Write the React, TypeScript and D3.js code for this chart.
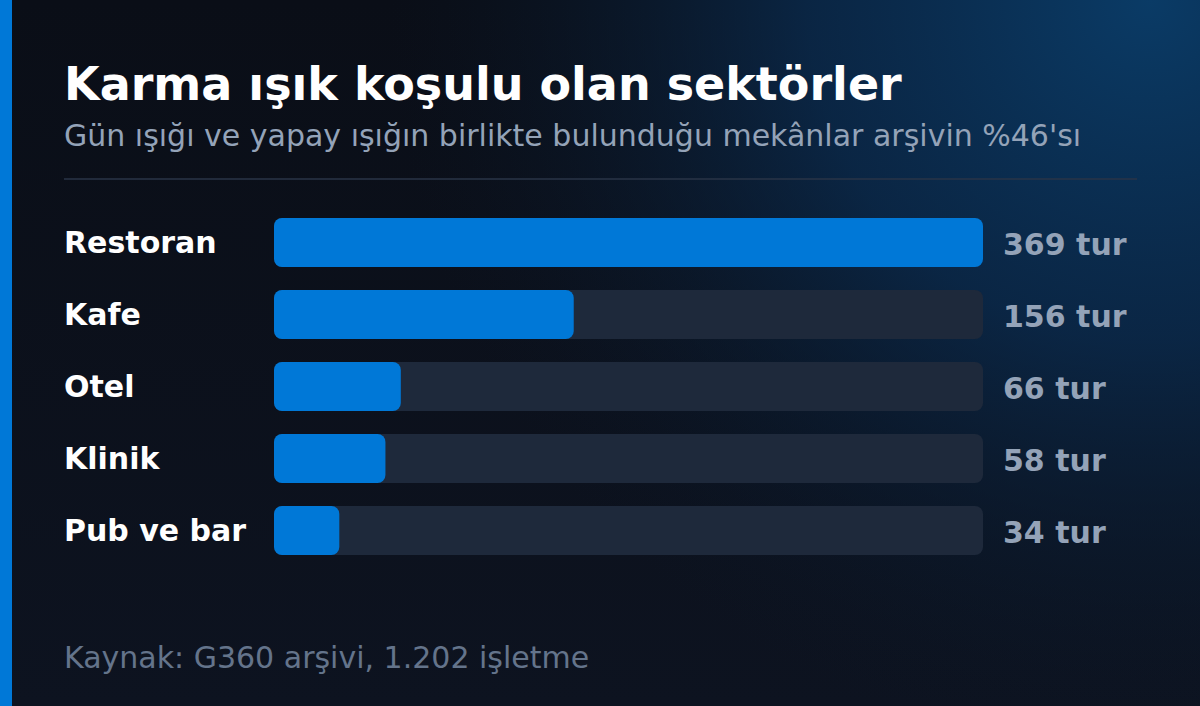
import React from 'react';
import * as d3 from 'd3';

const categories = ['Restoran', 'Kafe', 'Otel', 'Klinik', 'Pub ve bar'];
const values = [369, 156, 66, 58, 34];
const valueSuffix = ' tur';

const title = 'Karma ışık koşulu olan sektörler';
const subtitle = "Gün ışığı ve yapay ışığın birlikte bulunduğu mekânlar arşivin %46'sı";
const source = 'Kaynak: G360 arşivi, 1.202 işletme';

const W = 1200;
const H = 706;
const FONT = "'DejaVu Sans', sans-serif";

const App: React.FC = () => {
    const trackX = 274;
    const trackW = 709;

    const x = d3.scaleLinear()
        .domain([0, d3.max(values) as number])
        .range([0, trackW]);

    // rows: 49px bars on a 72px step
    const y = d3.scaleBand<string>()
        .domain(categories)
        .range([218, 218 + 72 * categories.length - 23])
        .paddingInner(23 / 72)
        .paddingOuter(0);

    return (
        <svg width={W} height={H} style={{ position: 'absolute', left: 0, top: 0 }}>
            <defs>
                <linearGradient id="bg" x1="0" y1="0" x2="0" y2="1">
                    <stop offset="0%" stopColor="#0a0e17" />
                    <stop offset="100%" stopColor="#0d1320" />
                </linearGradient>
                <radialGradient id="glow" cx="1150" cy="0" r="760" gradientUnits="userSpaceOnUse">
                    <stop offset="0%" stopColor="#0a3b66" stopOpacity="1" />
                    <stop offset="45%" stopColor="#0a2d52" stopOpacity="0.75" />
                    <stop offset="100%" stopColor="#0a1626" stopOpacity="0" />
                </radialGradient>
            </defs>
            <rect x={0} y={0} width={W} height={H} fill="url(#bg)" />
            <rect x={0} y={0} width={W} height={H} fill="url(#glow)" />
            <rect x={0} y={0} width={12} height={H} fill="#0078d7" />

            <text x={64} y={100} fill="#ffffff" fontFamily={FONT} fontWeight="bold" fontSize={46}>
                {title}
            </text>
            <text x={64} y={146} fill="#94a3b8" fontFamily={FONT} fontSize={30}>
                {subtitle}
            </text>
            <line x1={64} x2={1137} y1={179} y2={179} stroke="#2a3547" strokeWidth={1.5} />

            {categories.map((c, i) => {
                const y0 = y(c) as number;
                const bh = y.bandwidth();
                return (
                    <g key={c}>
                        <text x={64} y={y0 + bh / 2 + 10} fill="#ffffff" fontFamily={FONT}
                            fontWeight="bold" fontSize={30}>
                            {c}
                        </text>
                        <rect x={trackX} y={y0} width={trackW} height={bh} rx={8} fill="#1e293b" />
                        <rect x={trackX} y={y0} width={x(values[i])} height={bh} rx={8} fill="#0078d7" />
                        <text x={1003} y={y0 + bh / 2 + 12} fill="#94a3b8" fontFamily={FONT}
                            fontWeight="bold" fontSize={30}>
                            {values[i] + valueSuffix}
                        </text>
                    </g>
                );
            })}

            <text x={64} y={668} fill="#64748b" fontFamily={FONT} fontSize={30}>
                {source}
            </text>
        </svg>
    );
};

export default App;
